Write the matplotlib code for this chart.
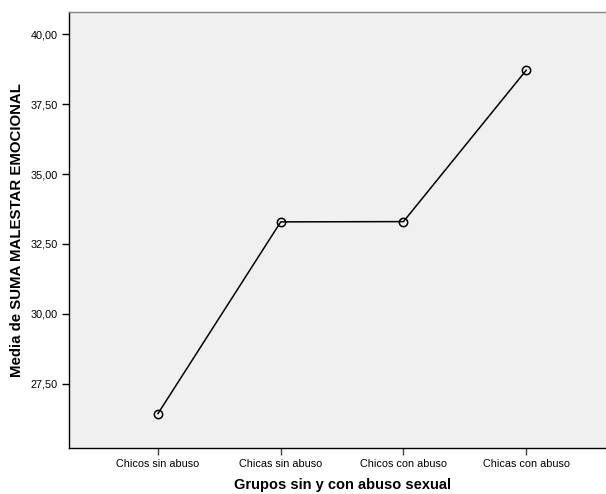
import matplotlib
matplotlib.use('Agg')
import matplotlib.pyplot as plt
from matplotlib.ticker import FuncFormatter

grupos = ['Chicos sin abuso', 'Chicas sin abuso', 'Chicos con abuso', 'Chicas con abuso']
medias = [26.44, 33.29, 33.30, 38.71]
yticks = [27.5, 30.0, 32.5, 35.0, 37.5, 40.0]

plt.rcParams['font.family'] = ['Liberation Sans', 'DejaVu Sans']

fig = plt.figure(figsize=(6.06, 4.94), dpi=100)
ax = fig.add_axes([69/606, 46/494, 1 - 69/606, 436/494])
ax.set_facecolor('#f0f0f0')

x = range(len(grupos))
ax.plot(x, medias, color='black', linewidth=1.1, marker='o', markersize=6,
        markerfacecolor='none', markeredgecolor='black', markeredgewidth=1.1)

ax.set_xlim(-0.725, 3.65)
ax.set_ylim(25.21, 40.79)
ax.set_xticks(list(x))
ax.set_xticklabels(grupos, fontsize=7.8)
ax.set_yticks(yticks)
ax.yaxis.set_major_formatter(FuncFormatter(lambda v, p: f'{v:.2f}'.replace('.', ',')))
ax.tick_params(axis='y', labelsize=7.8, length=5, width=1, direction='out', pad=3)
ax.tick_params(axis='x', length=5, width=1, color='#444444', direction='out', pad=3)

ax.spines['left'].set_color('black')
ax.spines['bottom'].set_color('black')
ax.spines['top'].set_color('#888888')
ax.spines['right'].set_visible(False)
for s in ax.spines.values():
    s.set_linewidth(1)

ax.set_xlabel('Grupos sin y con abuso sexual', fontsize=10.5, fontweight='bold')
ax.xaxis.set_label_coords(0.51, -0.068)
ax.set_ylabel('Media de SUMA MALESTAR EMOCIONAL', fontsize=10.8, fontweight='bold', labelpad=5)

fig.savefig('out.png', dpi=100)
